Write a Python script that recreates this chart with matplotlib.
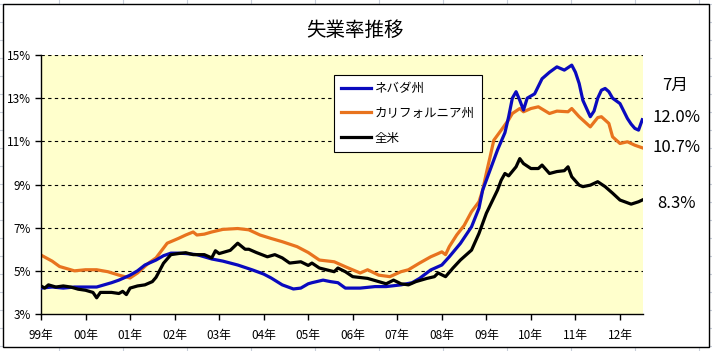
import matplotlib
matplotlib.use("Agg")
from matplotlib import pyplot as plt
from matplotlib.lines import Line2D
from matplotlib.patches import Rectangle
import numpy as np

plt.rcParams['font.family'] = ['Noto Sans CJK JP', 'DejaVu Sans']

# -----------------------------------------------------------#
# Data (month index 0 = Jan 1999)
# -----------------------------------------------------------#
title = "失業率推移"
series_names = ["ネバダ州", "カリフォルニア州", "全米"]
year_labels = ["99年", "00年", "01年", "02年", "03年", "04年", "05年",
               "06年", "07年", "08年", "09年", "10年", "11年", "12年"]
latest_month = "7月"
latest_labels = ["12.0%", "10.7%", "8.3%"]

nv_month = [0, 3, 6, 9, 12, 15, 17, 19, 21, 24, 26, 28, 31, 33, 35, 37, 39, 42,
            44, 46, 49, 53, 57, 60, 62, 65, 68, 70, 72, 73, 76, 78, 80, 82, 86,
            90, 93, 97, 100, 102, 105, 108, 110, 113, 116, 118, 119, 121, 123,
            125, 126, 127, 128, 129, 130, 131, 133, 135, 137, 139, 141, 143,
            144, 145, 146, 148, 149, 150, 151, 152, 153, 154, 156, 158, 159,
            160, 161, 162]
nv_rate = [4.2, 4.25, 4.2, 4.25, 4.25, 4.25, 4.35, 4.45, 4.57, 4.8, 5.0, 5.27,
           5.5, 5.7, 5.82, 5.82, 5.8, 5.75, 5.65, 5.55, 5.45, 5.27, 5.04, 4.85,
           4.67, 4.35, 4.16, 4.2, 4.4, 4.45, 4.57, 4.5, 4.45, 4.2, 4.2, 4.27,
           4.27, 4.35, 4.45, 4.65, 5.04, 5.27, 5.65, 6.27, 7.04, 7.9, 8.74,
           9.67, 10.6, 11.4, 12.14, 13.0, 13.3, 12.9, 12.45, 13.0, 13.2, 13.9,
           14.2, 14.45, 14.3, 14.53, 14.2, 13.68, 12.9, 12.14, 12.4, 13.0,
           13.37, 13.45, 13.3, 13.0, 12.75, 12.06, 11.8, 11.6, 11.52, 12.0]

ca_month = [0, 3, 5, 9, 12, 15, 18, 21, 24, 26, 29, 31, 34, 37, 39, 41, 42, 44,
            46, 49, 53, 56, 59, 62, 65, 69, 72, 75, 79, 82, 86, 88, 91, 94, 97,
            99, 102, 105, 107, 108, 109, 110, 112, 114, 116, 118, 119, 120, 121,
            122, 124, 126, 127, 129, 130, 132, 134, 137, 139, 142, 143, 145,
            148, 150, 151, 153, 154, 156, 158, 160, 162]
ca_rate = [5.73, 5.45, 5.2, 5.0, 5.05, 5.05, 4.96, 4.8, 4.67, 4.9, 5.36, 5.6,
           6.28, 6.5, 6.66, 6.8, 6.66, 6.7, 6.8, 6.92, 6.96, 6.9, 6.66, 6.5,
           6.35, 6.12, 5.85, 5.5, 5.42, 5.19, 4.9, 5.05, 4.8, 4.73, 4.96, 5.05,
           5.36, 5.65, 5.8, 5.88, 5.75, 6.12, 6.66, 7.1, 7.74, 8.2, 8.74, 9.53,
           10.28, 11.05, 11.52, 12.0, 12.29, 12.52, 12.37, 12.52, 12.6, 12.29,
           12.4, 12.37, 12.52, 12.14, 11.67, 12.1, 12.14, 11.83, 11.21, 10.9,
           10.98, 10.82, 10.7]

us_month = [0, 1, 2, 4, 6, 8, 10, 12, 14, 15, 16, 19, 21, 22, 23, 24, 26, 28,
            30, 31, 33, 35, 37, 39, 41, 44, 46, 47, 48, 51, 53, 55, 56, 58, 61,
            63, 65, 67, 70, 72, 73, 75, 79, 80, 82, 84, 88, 91, 93, 95, 97, 99,
            101, 104, 106, 107, 109, 111, 113, 116, 118, 120, 123, 124, 125,
            126, 128, 129, 130, 132, 134, 135, 137, 139, 141, 142, 143, 145,
            146, 148, 150, 152, 154, 156, 159, 161, 162]
us_rate = [4.3, 4.2, 4.35, 4.25, 4.3, 4.25, 4.15, 4.1, 4.0, 3.75, 4.0, 4.0,
           3.95, 4.05, 3.9, 4.2, 4.3, 4.35, 4.5, 4.7, 5.35, 5.75, 5.8, 5.84,
           5.75, 5.75, 5.6, 5.93, 5.8, 5.95, 6.28, 6.0, 6.0, 5.85, 5.65, 5.75,
           5.6, 5.36, 5.42, 5.25, 5.36, 5.13, 4.96, 5.13, 4.96, 4.73, 4.65,
           4.5, 4.4, 4.57, 4.4, 4.35, 4.5, 4.65, 4.73, 4.9, 4.73, 5.13, 5.5,
           5.96, 6.73, 7.67, 8.74, 9.2, 9.51, 9.4, 9.82, 10.2, 9.97, 9.74,
           9.74, 9.9, 9.51, 9.6, 9.64, 9.82, 9.36, 8.97, 8.9, 8.97, 9.13, 8.9,
           8.6, 8.28, 8.09, 8.2, 8.28]

colors = ["#0A0ABE", "#E8731E", "#000000"]

# -----------------------------------------------------------#
# Figure and sheet background
# -----------------------------------------------------------#
W, H = 712, 351
fig = plt.figure(figsize=(W / 100, H / 100), dpi=100)

# spreadsheet cell lines behind the chart
for xc in np.arange(59, W, 64):
    fig.add_artist(Line2D([xc / W, xc / W], [0, 1], color="#C8CEDA",
                          lw=0.8, transform=fig.transFigure, zorder=0.1))
for yc in np.arange(4.3, H, 18):
    fig.add_artist(Line2D([0, 1], [1 - yc / H, 1 - yc / H], color="#C8CEDA",
                          lw=0.8, transform=fig.transFigure, zorder=0.1))

fig.patches.append(Rectangle((3 / W, 1 - 347 / H), 706 / W, 343 / H,
                             transform=fig.transFigure, facecolor="white",
                             edgecolor="black", lw=1, zorder=0.5))

ax = fig.add_axes([41 / W, 1 - 314 / H, (643 - 41) / W, (314 - 55) / H])
ax.set_zorder(1)
ax.set_facecolor("#FFFFCC")

for ys in [5, 7, 9, 11, 13, 15]:
    ax.axhline(ys, color="black", lw=0.8, ls=(0, (3, 3)), zorder=1)

ax.plot(nv_month, nv_rate, color=colors[0], lw=2.3, label=series_names[0], zorder=3)
ax.plot(ca_month, ca_rate, color=colors[1], lw=2.3, label=series_names[1], zorder=2)
ax.plot(us_month, us_rate, color=colors[2], lw=2.3, label=series_names[2], zorder=4)

ax.set_xlim(0, 162.2)
ax.set_ylim(3, 15)
ax.set_yticks(np.arange(3, 16, 2))
ax.set_yticklabels([str(v) + "%" for v in range(3, 16, 2)])
ax.set_xticks(np.arange(0, 12 * len(year_labels), 12))
ax.set_xticklabels(year_labels)
ax.tick_params(axis="both", direction="out", length=4, width=1,
               labelsize=8.5, colors="black", pad=3)
ax.tick_params(axis="x", pad=7)
ax.spines["top"].set_visible(False)
ax.spines["right"].set_visible(False)
ax.spines["left"].set_linewidth(1)
ax.spines["bottom"].set_linewidth(1)

fig.text(355 / W, 1 - 30 / H, title, ha="center", va="center", fontsize=14)

leg = ax.legend(loc="upper left", bbox_to_anchor=(334 / W, 1 - 75 / H),
                bbox_transform=fig.transFigure, fontsize=9, frameon=True,
                fancybox=False, framealpha=1, edgecolor="black",
                handlelength=2.4, handletextpad=0.3, labelspacing=0.95,
                borderpad=0.55, borderaxespad=0)
leg.get_frame().set_linewidth(0.8)

fig.text(675 / W, 1 - 85 / H, latest_month, ha="center", va="center", fontsize=12)
label_y = [118, 148, 203]
for txt, yy in zip(latest_labels, label_y):
    fig.text(676 / W, 1 - yy / H, txt, ha="center", va="center", fontsize=12)

fig.savefig("out.png", dpi=100)
